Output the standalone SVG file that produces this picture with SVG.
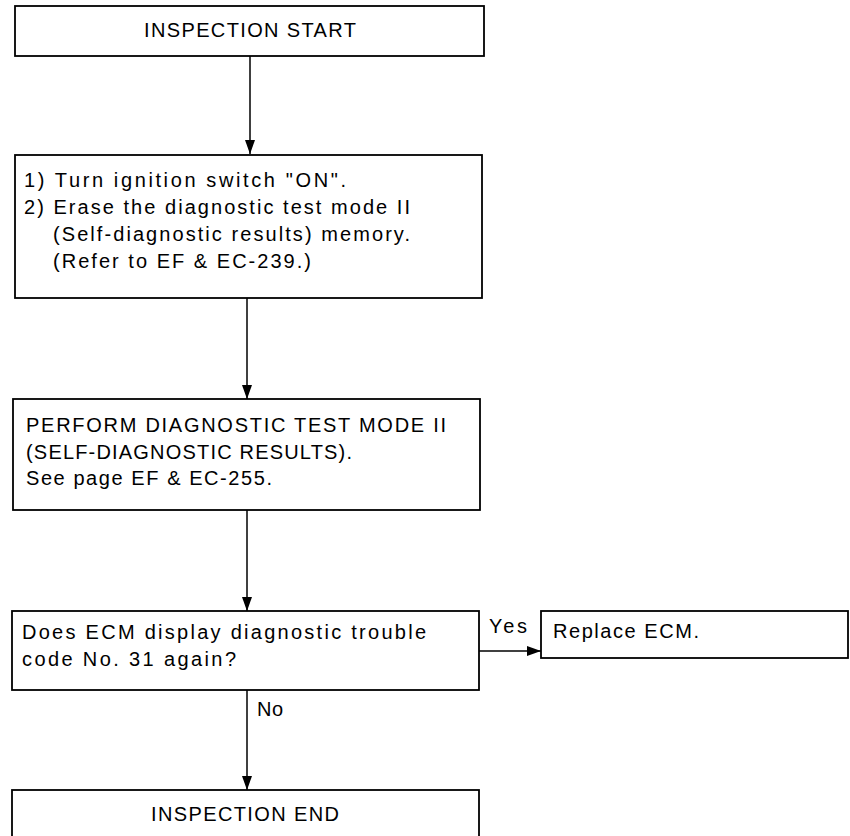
<svg xmlns="http://www.w3.org/2000/svg" width="850" height="836" viewBox="0 0 850 836">
<style>
.box{fill:#fff;stroke:#000;stroke-width:1.8}
.t{font-family:"Liberation Sans",Arial,sans-serif;font-size:20px;fill:#000}
.c{text-anchor:middle}
.ln{stroke:#000;stroke-width:1.5;fill:none}
</style>
<defs>
<marker id="ahv" viewBox="0 0 14 10" refX="14" refY="5" markerWidth="14" markerHeight="10" markerUnits="userSpaceOnUse" orient="auto">
<path d="M0,0 L14,5 L0,10 Z" fill="#000"/>
</marker>
</defs>
<rect width="850" height="836" fill="#fff"/>
<g id="connectors">
<line class="ln" x1="250" y1="56" x2="250" y2="154" marker-end="url(#ahv)"/>
<line class="ln" x1="247" y1="298" x2="247" y2="399" marker-end="url(#ahv)"/>
<line class="ln" x1="247" y1="510" x2="247" y2="611" marker-end="url(#ahv)"/>
<line class="ln" x1="247" y1="690" x2="247" y2="790" marker-end="url(#ahv)"/>
<line class="ln" x1="479" y1="651" x2="541" y2="651" marker-end="url(#ahv)"/>
<text class="t" x="489" y="633" textLength="38" lengthAdjust="spacing">Yes</text>
<text class="t" x="257" y="716" textLength="26" lengthAdjust="spacing">No</text>
</g>
<g id="start">
<rect class="box" x="15" y="6" width="469" height="50"/>
<text class="t c" x="250" y="37" textLength="212" lengthAdjust="spacing">INSPECTION START</text>
</g>
<g id="step1">
<rect class="box" x="15" y="155" width="467" height="143"/>
<text class="t" x="24" y="187" textLength="322" lengthAdjust="spacing">1) Turn ignition switch "ON".</text>
<text class="t" x="24" y="214" textLength="386" lengthAdjust="spacing">2) Erase the diagnostic test mode II</text>
<text class="t" x="53" y="241" textLength="357" lengthAdjust="spacing">(Self-diagnostic results) memory.</text>
<text class="t" x="53" y="268" textLength="258" lengthAdjust="spacing">(Refer to EF &amp; EC-239.)</text>
</g>
<g id="step2">
<rect class="box" x="13" y="399" width="467" height="111"/>
<text class="t" x="26" y="432" textLength="420" lengthAdjust="spacing">PERFORM DIAGNOSTIC TEST MODE II</text>
<text class="t" x="26" y="459" textLength="326" lengthAdjust="spacing">(SELF-DIAGNOSTIC RESULTS).</text>
<text class="t" x="26" y="485" textLength="246" lengthAdjust="spacing">See page EF &amp; EC-255.</text>
</g>
<g id="decision">
<rect class="box" x="12" y="611" width="467" height="79"/>
<text class="t" x="22" y="639" textLength="404" lengthAdjust="spacing">Does ECM display diagnostic trouble</text>
<text class="t" x="22" y="666" textLength="214" lengthAdjust="spacing">code No. 31 again?</text>
</g>
<g id="replace">
<rect class="box" x="541" y="611" width="307" height="47"/>
<text class="t" x="553" y="638" textLength="146" lengthAdjust="spacing">Replace ECM.</text>
</g>
<g id="end">
<rect class="box" x="12" y="790" width="467" height="60"/>
<text class="t c" x="245" y="821" textLength="188" lengthAdjust="spacing">INSPECTION END</text>
</g>
</svg>
